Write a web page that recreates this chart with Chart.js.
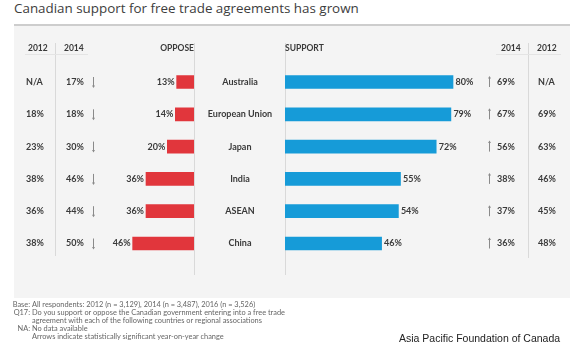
<!DOCTYPE html>
<html>
<head>
<meta charset="utf-8">
<script src="https://cdn.jsdelivr.net/npm/chart.js@4.4.0/dist/chart.umd.min.js"></script>
<style>
  body { margin: 0; width: 570px; height: 346px; background: #fff; position: relative; overflow: hidden; font-family: Lato, sans-serif; }
  #title { position: absolute; left: 14px; top: 2px; font: 13.4px/13px "Open Sans"; color: #3d3d3d; white-space: nowrap; }
  #rule { position: absolute; left: 14px; top: 24px; width: 556px; height: 2px; background: #cdcdcd; }
  #panel { position: absolute; left: 14px; top: 26px; width: 556px; height: 272px; background: #f4f4f4; }
  canvas { position: absolute; left: 0; top: 0; }
  #notes { position: absolute; left: 0; top: 300.5px; width: 400px; font: 7.4px/8px Lato; color: #666; white-space: nowrap; }
  #notes div { position: relative; height: 8px; }
  #notes b { font-weight: normal; position: absolute; left: 0; width: 30px; text-align: right; }
  #notes span { position: absolute; left: 32px; }
  #source { position: absolute; left: 399px; top: 332px; font: 10.5px/12px "Liberation Sans"; color: #222; white-space: nowrap; }
</style>
</head>
<body>
<div id="title">Canadian support for free trade agreements has grown</div>
<div id="rule"></div>
<div id="panel"></div>
<canvas id="opposeChart" width="570" height="346"></canvas>
<canvas id="supportChart" width="570" height="346"></canvas>
<div id="notes">
  <div><b>Base:</b><span>All respondents: 2012 (n = 3,129), 2014 (n = 3,487), 2016 (n = 3,526)</span></div>
  <div><b>Q17:</b><span>Do you support or oppose the Canadian government entering into a free trade</span></div>
  <div><span>agreement with each of the following countries or regional associations</span></div>
  <div><b>NA:</b><span>No data available</span></div>
  <div><span>Arrows indicate statistically significant year-on-year change</span></div>
</div>
<div id="source">Asia Pacific Foundation of Canada</div>
<script>
const countries = ['Australia', 'European Union', 'Japan', 'India', 'ASEAN', 'China'];
const oppose2016 = [13, 14, 20, 36, 36, 46];
const oppose2014 = [17, 18, 30, 46, 44, 50];
const oppose2012 = [null, 18, 23, 38, 36, 38];
const support2016 = [80, 79, 72, 55, 54, 46];
const support2014 = [69, 67, 56, 38, 37, 36];
const support2012 = [null, 69, 63, 46, 45, 48];

const textColor = '#3a3a3a';
const lineColor = '#d9d9d9';

function pct(v) {
  return v == null ? 'N/A' : v + '%';
}

function vline(ctx, x, y1, y2) {
  ctx.fillStyle = lineColor;
  ctx.fillRect(x, y1, 1, y2 - y1);
}

function arrow(ctx, x, y, up) {
  ctx.strokeStyle = '#8a8a8a';
  ctx.fillStyle = '#8a8a8a';
  ctx.lineWidth = 1;
  ctx.beginPath();
  ctx.moveTo(x, y - 5);
  ctx.lineTo(x, y + 5);
  ctx.stroke();
  const tip = up ? y - 6 : y + 6;
  const d = up ? 2.5 : -2.5;
  ctx.beginPath();
  ctx.moveTo(x, tip);
  ctx.lineTo(x - 1.5, tip + d);
  ctx.lineTo(x + 1.5, tip + d);
  ctx.closePath();
  ctx.fill();
}

const opposeText = {
  id: 'opposeText',
  beforeDatasetsDraw(chart) {
    const ctx = chart.ctx;
    vline(ctx, 55, 43, 256);
    vline(ctx, 194, 43, 275);
    ctx.fillStyle = '#e4e4e4';
    ctx.fillRect(25, 54, 63, 1);
  },
  afterDatasetsDraw(chart) {
    const ctx = chart.ctx;
    const yScale = chart.scales.y;
    const bars = chart.getDatasetMeta(0).data;
    ctx.save();
    ctx.fillStyle = textColor;
    ctx.textBaseline = 'middle';
    ctx.font = 'bold 8.5px Lato';
    ctx.textAlign = 'left';
    ctx.fillText('2012', 28, 48);
    ctx.fillText('2014', 64, 48);
    ctx.textAlign = 'right';
    ctx.fillText('OPPOSE', 194, 48);
    ctx.font = 'bold 9px Lato';
    countries.forEach((c, i) => {
      const y = yScale.getPixelForValue(i);
      ctx.fillStyle = textColor;
      ctx.textAlign = 'left';
      ctx.fillText(pct(oppose2012[i]), 26, y);
      ctx.fillText(pct(oppose2014[i]), 66, y);
      ctx.textAlign = 'right';
      ctx.fillText(pct(oppose2016[i]), bars[i].x - 2, y);
      arrow(ctx, 93.5, y, oppose2016[i] > oppose2014[i]);
    });
    ctx.restore();
  }
};

const supportText = {
  id: 'supportText',
  beforeDatasetsDraw(chart) {
    const ctx = chart.ctx;
    vline(ctx, 285, 43, 275);
    vline(ctx, 528, 43, 258);
    ctx.fillStyle = '#e4e4e4';
    ctx.fillRect(496, 54, 65, 1);
  },
  afterDatasetsDraw(chart) {
    const ctx = chart.ctx;
    const yScale = chart.scales.y;
    const bars = chart.getDatasetMeta(0).data;
    ctx.save();
    ctx.fillStyle = textColor;
    ctx.textBaseline = 'middle';
    ctx.font = 'bold 8.5px Lato';
    ctx.textAlign = 'left';
    ctx.fillText('SUPPORT', 285, 48);
    ctx.fillText('2014', 501, 48);
    ctx.fillText('2012', 537, 48);
    ctx.font = 'bold 9px Lato';
    countries.forEach((c, i) => {
      const y = yScale.getPixelForValue(i);
      ctx.fillStyle = textColor;
      ctx.textAlign = 'center';
      ctx.fillText(c, 240, y);
      ctx.textAlign = 'left';
      ctx.fillText(pct(support2016[i]), bars[i].x + 2.5, y);
      ctx.fillText(pct(support2014[i]), 497, y);
      ctx.fillText(pct(support2012[i]), 538, y);
      arrow(ctx, 489.5, y, support2016[i] > support2014[i]);
    });
    ctx.restore();
  }
};

function barOptions(padding, xScale) {
  return {
    indexAxis: 'y',
    responsive: false,
    animation: false,
    layout: { padding },
    plugins: { legend: { display: false }, tooltip: { enabled: false } },
    scales: {
      x: Object.assign({ display: false, min: 0 }, xScale),
      y: { display: false }
    }
  };
}

new Chart(document.getElementById('opposeChart'), {
  type: 'bar',
  data: {
    labels: countries,
    datasets: [{ label: 'Oppose', data: oppose2016, backgroundColor: '#e1363c', barThickness: 13 }]
  },
  options: barOptions({ left: 94, right: 376, top: 65.85, bottom: 86.35 }, { reverse: true, max: 75 }),
  plugins: [opposeText]
});

new Chart(document.getElementById('supportChart'), {
  type: 'bar',
  data: {
    labels: countries,
    datasets: [{ label: 'Support', data: support2016, backgroundColor: '#169bd8', barThickness: 13 }]
  },
  options: barOptions({ left: 285, right: 75, top: 65.85, bottom: 86.35 }, { max: 100 }),
  plugins: [supportText]
});
</script>
</body>
</html>
